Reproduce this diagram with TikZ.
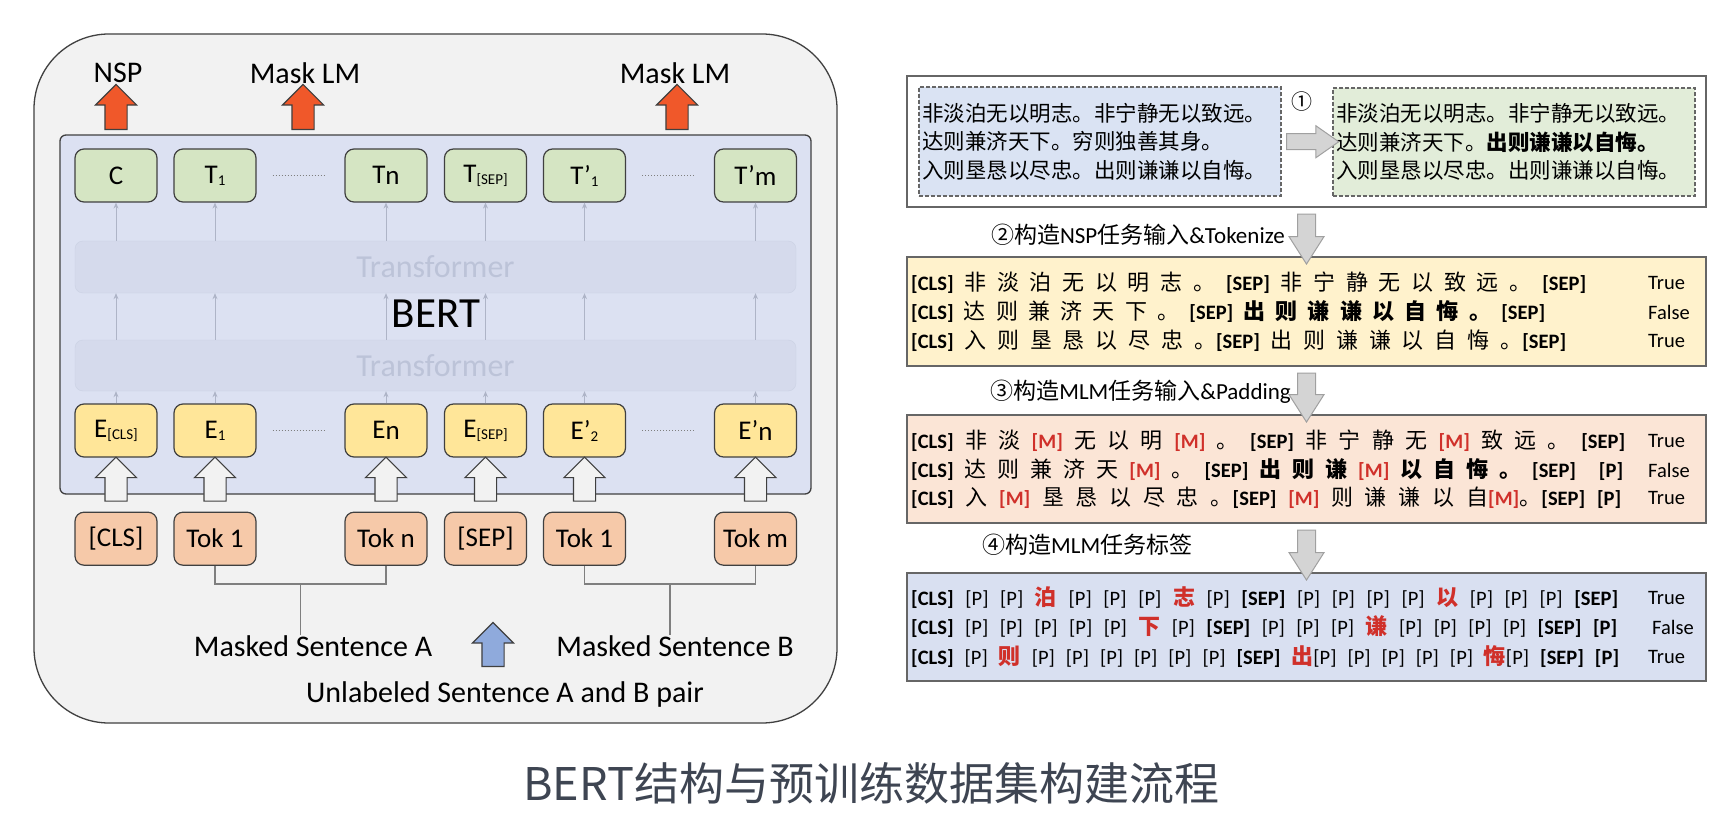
\documentclass[tikz,border=0pt]{standalone}
\usepackage{fontspec}
\setmainfont{Carlito}
\newfontfamily\cjk{Noto Sans CJK SC}
\usetikzlibrary{positioning,calc,arrows.meta,shapes.arrows}
\definecolor{bertline}{HTML}{404040}
\definecolor{outerfill}{HTML}{F2F2F2}
\definecolor{bertfill}{HTML}{DCE1F2}
\definecolor{tffill}{HTML}{D5DAEC}
\definecolor{tfline}{HTML}{CBD1E4}
\definecolor{tftext}{HTML}{BCC3D8}
\definecolor{thinarrow}{HTML}{AEB4C7}
\definecolor{tgreen}{HTML}{D5E5C3}
\definecolor{eyellow}{HTML}{FFE699}
\definecolor{kpeach}{HTML}{F6C9A9}
\definecolor{nspred}{HTML}{F0582A}
\definecolor{inblue}{HTML}{8FAADC}
\definecolor{bracketgray}{HTML}{7F7F7F}
\definecolor{boxgray}{HTML}{666666}
\definecolor{dashblue}{HTML}{DAE3F3}
\definecolor{dashgreen}{HTML}{E2EDD9}
\definecolor{nspyellow}{HTML}{FFF2CC}
\definecolor{mlmpeach}{HTML}{FBE5D6}
\definecolor{lblblue}{HTML}{D9E0F1}
\definecolor{stepgray}{HTML}{D4D4D4}
\definecolor{stepline}{HTML}{A0A0A0}
\definecolor{mred}{HTML}{D0302A}
\definecolor{titlegray}{HTML}{3E4552}

% tokens of the right-hand rows
\newcommand{\lat}{\rmfamily\fontsize{20.5}{24}\selectfont}
\newcommand{\CLS}{{\lat\bfseries [CLS]}}
\newcommand{\SEP}{{\lat\bfseries [SEP]}}
\newcommand{\Mk}{{\lat\bfseries\color{mred}[M]}}
\newcommand{\Pn}{{\lat [P]}}
\newcommand{\PB}{{\lat\bfseries [P]}}
\newcommand{\Rd}[1]{{\bfseries\color{mred}#1}}
\newcommand{\spread}[2]{\makebox[#1][s]{\spaceskip=3pt plus 1fil\relax #2}}
\newcommand{\sm}[1]{\raisebox{-2pt}{\fontsize{15}{15}\selectfont #1}}
\newcommand{\lo}[1]{\raisebox{-1.5pt}{#1}}

\begin{document}
\begin{tikzpicture}[x=1pt, y=-1pt,
  font=\fontsize{27}{30}\selectfont,
  tbox/.style={draw=bertline, line width=1.2pt, rounded corners=9pt, minimum width=82pt, minimum height=53pt, inner sep=0pt},
  tnode/.style={tbox, fill=tgreen},
  enode/.style={tbox, fill=eyellow},
  knode/.style={tbox, fill=kpeach},
  tfbar/.style={draw=tfline, fill=tffill, rounded corners=8pt, minimum width=721pt, minimum height=52pt, text=tftext, font=\fontsize{32}{34}\selectfont},
  thinarr/.style={-{Stealth[length=6pt, width=5pt]}, line width=1pt, draw=thinarrow},
  dotline/.style={draw=bracketgray, line width=1pt, dash pattern=on 1pt off 2pt},
  bracket/.style={draw=bracketgray, line width=1.5pt},
  blockarr/.style={single arrow, draw=bertline, line width=1.1pt, inner xsep=0pt, inner ysep=10.5pt, single arrow head extend=9.5pt, minimum width=40pt},
  hollow/.style={blockarr, fill=outerfill, rotate=90, minimum height=44pt},
  redarr/.style={blockarr, fill=nspred, rotate=90, minimum height=45pt},
  bluearr/.style={blockarr, fill=inblue, rotate=90, minimum height=44pt},
  biglbl/.style={font=\fontsize{30}{32}\selectfont, inner sep=0pt},
  rbox/.style={draw=boxgray, line width=1.3pt, minimum width=799pt, inner sep=0pt},
  dbox/.style={draw=boxgray, line width=1.1pt, dash pattern=on 4pt off 2pt, minimum width=362pt, minimum height=108pt, inner sep=0pt},
  cntext/.style={font=\cjk\fontsize{21.5}{28.5}\selectfont, align=left, anchor=west, inner sep=0pt},
  tokrow/.style={font=\cjk\fontsize{22}{24}\selectfont, anchor=west, inner sep=0pt},
  verdict/.style={font=\fontsize{20.5}{24}\selectfont, anchor=west, inner sep=0pt},
  steparr/.style={single arrow, draw=stepline, fill=stepgray, line width=1pt, inner xsep=0pt, inner ysep=8.5pt, single arrow head extend=8.5pt, single arrow tip angle=65, minimum width=34pt},
  steplbl/.style={font=\fontsize{23}{26}\selectfont, inner sep=0pt}
]
\useasboundingbox (0,0) rectangle (1726,826);
\fill[white] (0,0) rectangle (1726,826);

% ---- left: BERT model ----
\node[draw=bertline, line width=1.3pt, fill=outerfill, rounded corners=75pt, minimum width=803pt, minimum height=689pt] (outer) at (435.5,378.5) {};
\node[draw=bertline, line width=1.3pt, fill=bertfill, rounded corners=6pt, minimum width=751pt, minimum height=359pt] (bert) at (435.5,314.5) {};
\node[tfbar] (tf1) at (435.5,267) {Transformer};
\node[tfbar, minimum height=51pt] (tf2) at (435.5,365.5) {Transformer};
\node[font=\fontsize{43}{45}\selectfont] (bertlbl) at (436,314) {BERT};

\node[tnode] (t1) at (116,175.5) {C};
\node[tnode] (t2) at (215,175.5) {T\sm{1}};
\node[tnode] (t3) at (386,175.5) {T\lo{n}};
\node[tnode] (t4) at (485.5,175.5) {T\sm{[SEP]}};
\node[tnode] (t5) at (584.5,175.5) {T’\sm{1}};
\node[tnode] (t6) at (755.5,175.5) {T’\lo{m}};

\node[enode, below=255pt of t1.south, anchor=south] (e1) {E\sm{[CLS]}};
\node[enode, below=255pt of t2.south, anchor=south] (e2) {E\sm{1}};
\node[enode, below=255pt of t3.south, anchor=south] (e3) {E\lo{n}};
\node[enode, below=255pt of t4.south, anchor=south] (e4) {E\sm{[SEP]}};
\node[enode, below=255pt of t5.south, anchor=south] (e5) {E’\sm{2}};
\node[enode, below=255pt of t6.south, anchor=south] (e6) {E’\lo{n}};

\node[knode, below=54pt of e1] (k1) {[CLS]};
\node[knode, below=54pt of e2] (k2) {Tok 1};
\node[knode, below=54pt of e3] (k3) {Tok n};
\node[knode, below=54pt of e4] (k4) {[SEP]};
\node[knode, below=54pt of e5] (k5) {Tok 1};
\node[knode, below=54pt of e6] (k6) {Tok m};

\foreach \i in {1,...,6} {
  \draw[thinarr] (e\i.north) -- (e\i.north |- tf2.south);
  \draw[thinarr] (e\i.north |- tf2.north) -- (e\i.north |- tf1.south);
  \draw[thinarr] (e\i.north |- tf1.north) -- (t\i.south);
  \node[hollow] (h\i) at ($(k\i.north)!0.5!(e\i.south)$) {};
}
\draw[dotline] ($(t2.east)+(16,0)$) -- ($(t3.west)+(-19,0)$);
\draw[dotline] ($(t5.east)+(16,0)$) -- ($(t6.west)+(-19,0)$);
\draw[dotline] ($(e2.east)+(16,0)$) -- ($(e3.west)+(-19,0)$);
\draw[dotline] ($(e5.east)+(16,0)$) -- ($(e6.west)+(-19,0)$);

\node[redarr] (nsparr) at (116,112.5) {};
\node[redarr] (mlmarr1) at (303,112.5) {};
\node[redarr] (mlmarr2) at (677,112.5) {};
\node[biglbl] (nsp) at (118,73) {NSP};
\node[biglbl] (mlm1) at (305,73) {Mask LM};
\node[biglbl] (mlm2) at (675,73) {Mask LM};

\node[biglbl] (senta) at (313,646) {Masked Sentence A};
\node[biglbl] (sentb) at (675,646) {Masked Sentence B};
\coordinate (ca) at ($(k2.south)!0.5!(k3.south)+(0,18)$);
\coordinate (cb) at ($(k5.south)!0.5!(k6.south)+(0,18)$);
\draw[bracket] (k2.south) -- ++(0,18) -| (k3.south);
\draw[bracket] (k5.south) -- ++(0,18) -| (k6.south);
\draw[bracket] (ca) -- (ca |- senta.north);
\draw[bracket] (cb) -- (cb |- sentb.north);
\node[bluearr] (inarr) at (493,650) {};
\node[biglbl] (pair) at (505,694) {Unlabeled Sentence A and B pair};

% ---- right: building the data set ----
\node[rbox, fill=white, minimum height=131pt] (b1) at (1306.5,141.5) {};
\node[dbox, fill=dashblue, minimum height=109pt] (src) at (1100,141.5) {};
\node[dbox, fill=dashgreen] (swp) at (1514,142) {};
\node[cntext] (srctxt) at (922,141.5) {非淡泊无以明志。非宁静无以致远。\\达则兼济天下。穷则独善其身。\\入则垦恳以尽忠。出则谦谦以自悔。};
\node[cntext] (swptxt) at (1336,142) {非淡泊无以明志。非宁静无以致远。\\达则兼济天下。\textbf{出则谦谦以自悔。}\\入则垦恳以尽忠。出则谦谦以自悔。};
\node[steparr, inner ysep=7.5pt, single arrow head extend=8pt, minimum width=31pt, single arrow tip angle=70, minimum height=52pt] (a1) at ($(src.east)!0.5!(swp.west)$) {};
\node[font=\cjk\fontsize{21}{24}\selectfont, inner sep=0pt] (n1) at (1302,102) {①};

\node[rbox, fill=nspyellow, minimum height=109pt] (b2) at (1306.5,311.5) {};
\node[rbox, fill=mlmpeach, minimum height=108pt] (b3) at (1306.5,469) {};
\node[rbox, fill=lblblue, minimum height=108pt] (b4) at (1306.5,627) {};

\node[steparr, rotate=-90, minimum height=50pt] (a2) at ($(b1.south)!0.5!(b2.north)$) {};
\node[steparr, rotate=-90, minimum height=49pt] (a3) at ($(b2.south)!0.5!(b3.north)$) {};
\node[steparr, rotate=-90, minimum height=50pt] (a4) at ($(b3.south)!0.5!(b4.north)$) {};
\node[steplbl, anchor=east] (l2) at (1285,235) {{\cjk ②构造}NSP{\cjk 任务输入}\&Tokenize};
\node[steplbl, anchor=east] (l3) at (1291,392) {{\cjk ③构造}MLM{\cjk 任务输入}\&Padding};
\node[steplbl, anchor=west] (l4) at (982,545) {{\cjk ④构造}MLM{\cjk 任务标签}};

\node[tokrow] (r21) at (911,283) {\spread{675pt}{\CLS{} 非 淡 泊 无 以 明 志 。 \SEP{} 非 宁 静 无 以 致 远 。 \SEP}};
\node[tokrow] (r22) at (911,312) {\spread{634pt}{\CLS{} 达 则 兼 济 天 下 。 \SEP{} {\bfseries 出 则 谦 谦 以 自 悔 。} \SEP}};
\node[tokrow] (r23) at (911,341) {\spread{655pt}{\CLS{} 入 则 垦 恳 以 尽 忠 。\SEP{} 出 则 谦 谦 以 自 悔 。\SEP}};
\node[verdict] at (1648,283) {True};
\node[verdict] at (1648,312) {False};
\node[verdict] at (1648,341) {True};

\node[tokrow] (r31) at (911,441) {\spread{714pt}{\CLS{} 非 淡 \Mk{} 无 以 明 \Mk{} 。 \SEP{} 非 宁 静 无 \Mk{} 致 远 。 \SEP}};
\node[tokrow] (r32) at (911,470) {\spread{712pt}{\CLS{} 达 则 兼 济 天 \Mk{} 。 \SEP{} {\bfseries 出 则 谦} \Mk{} {\bfseries 以 自 悔 。} \SEP\hspace{12pt} \PB}};
\node[tokrow] (r33) at (911,498) {\spread{710pt}{\CLS{} 入 \Mk{} 垦 恳 以 尽 忠 。\SEP{} \Mk{} 则 谦 谦 以 自\Mk{}。\SEP{} \PB}};
\node[verdict] at (1648,441) {True};
\node[verdict] at (1648,470) {False};
\node[verdict] at (1648,498) {True};

\node[tokrow] (r41) at (911,598) {\spread{707pt}{\CLS{} \Pn{} \Pn{} \Rd{泊} \Pn{} \Pn{} \Pn{} \Rd{志} \Pn{} \SEP{} \Pn{} \Pn{} \Pn{} \Pn{} \Rd{以} \Pn{} \Pn{} \Pn{} \SEP}};
\node[tokrow] (r42) at (911,627) {\spread{706pt}{\CLS{} \Pn{} \Pn{} \Pn{} \Pn{} \Pn{} \Rd{下} \Pn{} \SEP{} \Pn{} \Pn{} \Pn{} \Rd{谦} \Pn{} \Pn{} \Pn{} \Pn{} \SEP{} \PB}};
\node[tokrow] (r43) at (911,657) {\spread{708pt}{\CLS{} \Pn{} \Rd{则} \Pn{} \Pn{} \Pn{} \Pn{} \Pn{} \Pn{} \SEP{} \Rd{出}\Pn{} \Pn{} \Pn{} \Pn{} \Pn{} \Rd{悔}\Pn{} \SEP{} \PB}};
\node[verdict] at (1648,598) {True};
\node[verdict] at (1652,627) {False};
\node[verdict] at (1648,657) {True};

\node[font=\cjk\fontsize{45}{48}\selectfont, text=titlegray] (title) at (871,783) {BERT结构与预训练数据集构建流程};
\end{tikzpicture}
\end{document}
